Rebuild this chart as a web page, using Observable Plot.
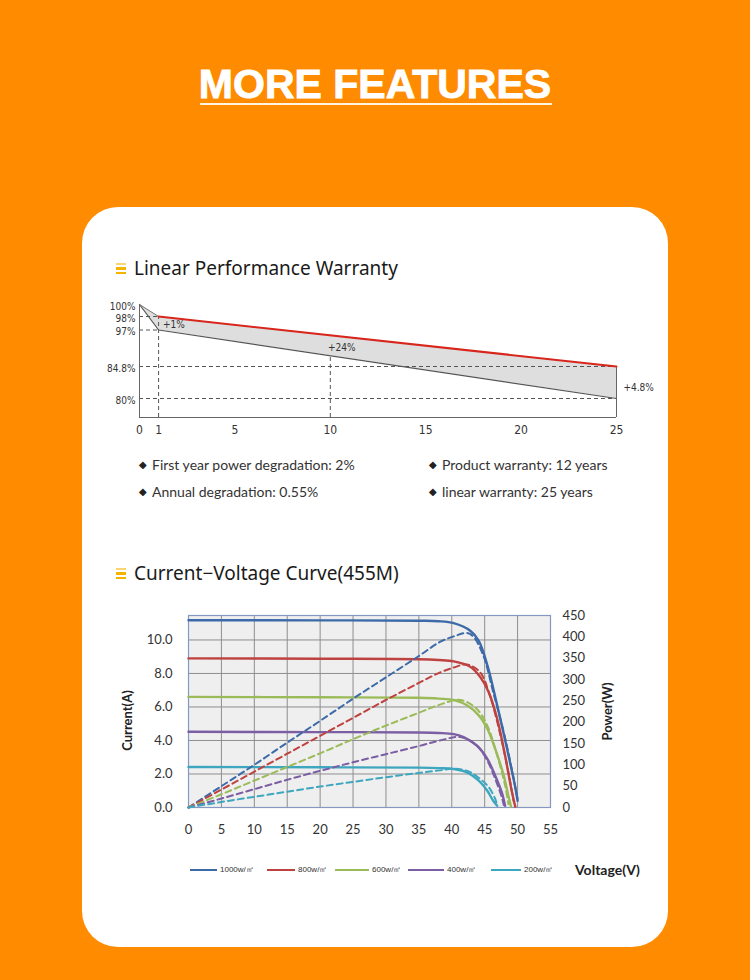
<!DOCTYPE html>
<html><head><meta charset="utf-8">
<script src="https://cdn.jsdelivr.net/npm/d3@7"></script>
<script src="https://cdn.jsdelivr.net/npm/@observablehq/plot@0.6"></script>
<style>
html,body{margin:0;padding:0;}
body{width:750px;height:980px;background:#ff8b00;overflow:hidden;position:relative;font-family:"Noto Sans",sans-serif;}
.abs{position:absolute;}
#title{left:0;width:750px;top:63.6px;text-align:center;font:bold 41px/41px "Liberation Sans",Arial,sans-serif;color:#fff;white-space:nowrap;-webkit-text-stroke:0.9px #fff;}
#uline{left:200px;width:352px;top:102.5px;height:2.5px;background:#fff4e0;}
#card{left:82px;top:207px;width:586px;height:740px;background:#fff;border-radius:36px;}
.hdr{left:134px;font:400 19px/19px "Noto Sans",sans-serif;color:#1a1a1a;white-space:nowrap;}
.bar{width:10px;height:2.4px;background:#f4b400;left:116px;}
.bl{font:14px/14px Lato,sans-serif;color:#333;white-space:nowrap;}
.dia{font:10px/14px "DejaVu Sans",sans-serif;color:#222;display:inline-block;width:13px;vertical-align:top;}
.lgi{position:absolute;top:864px;display:flex;align-items:center;font:8px/12px "Liberation Sans",sans-serif;color:#333;white-space:nowrap;}
.lgi .ln{height:2px;margin-right:3px;}
#volt{left:575px;top:861px;font:bold 14px/18px Lato,sans-serif;color:#222;}
</style></head>
<body>
<div id="title" class="abs">MORE FEATURES</div>
<div id="uline" class="abs"></div>
<div id="card" class="abs"></div>

<div class="abs bar" style="top:262.5px;opacity:.55"></div>
<div class="abs bar" style="top:267.2px"></div>
<div class="abs bar" style="top:272px"></div>
<div class="abs hdr" style="top:259.2px">Linear Performance Warranty</div>

<div id="chart1" class="abs" style="left:100px;top:290px;"></div>

<div class="abs bl" style="left:139px;top:457.6px"><span class="dia">◆</span>First year power degradation: 2%</div>
<div class="abs bl" style="left:139px;top:484.6px"><span class="dia">◆</span>Annual degradation: 0.55%</div>
<div class="abs bl" style="left:429px;top:457.6px"><span class="dia">◆</span>Product warranty: 12 years</div>
<div class="abs bl" style="left:429px;top:484.6px"><span class="dia">◆</span>linear warranty: 25 years</div>

<div class="abs bar" style="top:567.5px;opacity:.55"></div>
<div class="abs bar" style="top:572.2px"></div>
<div class="abs bar" style="top:577px"></div>
<div class="abs hdr" style="top:564.2px">Current−Voltage Curve(455M)</div>

<div id="chart2" class="abs" style="left:100px;top:600px;width:560px;height:240px;"></div>
<div id="legend"></div>
<div id="volt" class="abs">Voltage(V)</div>

<script>
// ---------- Linear performance warranty ----------
const years = [0, 1, 25];
const warrantedPower = [100, 98, 84.8];
const standardPower = [100, 97, 80];
const pctTicks = [100, 98, 97, 84.8, 80];
const yearTicks = [0, 1, 5, 10, 15, 20, 25];
const gainLabels = ["+1%", "+24%"];
const gainYears = [1.8, 10.6];
const gainPcts = [97.4, 91.2];
const endGainLabel = "+4.8%";

// ---------- Current-voltage curve ----------
const irradiance = ["1000w/㎡", "800w/㎡", "600w/㎡", "400w/㎡", "200w/㎡"];
const colors = ["#3d6aa8", "#be4340", "#9bbb59", "#7b5ea3", "#3ea7bf"];
const currentTicks = [0, 2, 4, 6, 8, 10];
const powerTicks = [0, 50, 100, 150, 200, 250, 300, 350, 400, 450];
const voltTicks = [0, 5, 10, 15, 20, 25, 30, 35, 40, 45, 50, 55];

// I-V (voltage V, current A)
const iv1000 = [[0,11.18],[20,11.17],[35,11.15],[38,11.12],[40.3,11.0],[42.8,10.55],[44.1,9.95],[45.4,8.5],[46.9,6.1],[48.4,3.5],[49.6,1.3],[50.0,0.4]];
const iv800  = [[0,8.9],[20,8.88],[35,8.85],[38,8.8],[40.3,8.72],[42.8,8.4],[44.3,7.8],[45.6,6.9],[46.9,5.3],[48.1,3.1],[49.1,1.0],[49.65,0.05]];
const iv600  = [[0,6.6],[20,6.58],[35,6.55],[38,6.5],[40.5,6.4],[42.3,6.1],[44.1,5.5],[45.4,4.7],[46.6,3.5],[47.9,1.9],[48.6,0.7],[49.0,0.05]];
const iv400  = [[0,4.52],[20,4.5],[35,4.48],[38,4.45],[40.3,4.38],[41.8,4.2],[43.8,3.7],[45.4,2.9],[46.6,1.9],[47.6,0.9],[48.1,0.1]];
const iv200  = [[0,2.42],[20,2.4],[35,2.38],[38,2.35],[40.3,2.3],[42.3,2.1],[44.1,1.6],[45.4,1.0],[46.3,0.4],[46.9,0.1]];
// P-V (voltage V, power W)
const pv1000 = [[0,0],[5,50],[10,100],[15,152],[20,203],[25,255],[30,305],[35,355],[38.2,388],[40.5,402],[42.3,409],[43.3,400],[44.8,356],[46.3,270],[47.9,176],[49.1,91],[49.9,28],[50.1,12]];
const pv800  = [[0,0],[5,42],[10,84],[15,126],[20,168],[25,210],[30,252],[35,292],[38,315],[40.3,328],[42.3,335],[44.3,317],[45.8,262],[47.4,169],[48.6,83],[49.4,15]];
const pv600  = [[0,0],[5,31],[10,63],[15,95],[20,127],[25,160],[30,192],[35,222],[38,240],[41.3,252],[43.8,231],[45.4,192],[46.9,122],[48.1,52],[48.6,8]];
const pv400  = [[0,0],[5,21],[10,43],[15,65],[20,86],[25,106],[30,125],[35,144],[38.2,157],[41.3,165],[43.8,145],[45.4,110],[46.6,67],[47.6,24],[47.9,6]];
const pv200  = [[0,0],[5,13],[10,25],[15,37],[20,49],[25,60],[30,71],[35,81],[38.2,87],[40.5,91],[42.8,83],[44.3,67],[45.6,48],[46.6,20],[46.9,5]];

// ---------- chart 1 ----------
const floorPct = 77;
const yDomain = [floorPct, 80, 84.8, 97, 98, 100];
const yRange = [127, 108, 76, 39.5, 26, 14];
const band = years.map((t, i) => ({year: t, lo: standardPower[i], hi: warrantedPower[i]}));
const gains = gainLabels.map((l, i) => ({label: l, year: gainYears[i], pct: gainPcts[i]}));
const lastYear = years[years.length - 1];
const endGain = [{label: endGainLabel, year: lastYear, pct: (warrantedPower[2] + standardPower[2]) / 2}];
// value of the standard line at year 10 as drawn (straight in screen space)
const ys = d3.scaleLinear(yDomain, yRange);
const f10 = (10 - years[1]) / (years[2] - years[1]);
const lo10 = ys.invert(ys(standardPower[1]) + f10 * (ys(standardPower[2]) - ys(standardPower[1])));

const dash = {stroke: "#555", strokeWidth: 1, strokeDasharray: "4,3"};
const narrow = '"DejaVu Sans Condensed","Liberation Sans",sans-serif';
const c1 = Plot.plot({
  width: 560, height: 155,
  marginLeft: 39, marginRight: 44, marginTop: 14, marginBottom: 28,
  x: {domain: [0, 25]},
  y: {type: "linear", domain: yDomain, range: yRange},
  style: {fontFamily: narrow, fontSize: "10px", color: "#333", background: "transparent", overflow: "visible"},
  marks: [
    Plot.areaY(band, {x: "year", y1: "lo", y2: "hi", fill: "#dedede"}),
    Plot.ruleY([98, 97], {x1: 0, x2: 1, ...dash}),
    Plot.ruleY([84.8, 80], {x1: 0, x2: 25, ...dash}),
    Plot.ruleX([1], {y1: floorPct, y2: 98, ...dash}),
    Plot.ruleX([10], {y1: floorPct, y2: lo10, ...dash}),
    Plot.line(band, {x: "year", y: "lo", stroke: "#555", strokeWidth: 1.2}),
    Plot.line(band.slice(0, 2), {x: "year", y: "hi", stroke: "#777", strokeWidth: 1}),
    Plot.ruleX([25], {y1: floorPct, y2: 84.8, stroke: "#666", strokeWidth: 1}),
    Plot.ruleX([0], {y1: floorPct, y2: 100, stroke: "#666", strokeWidth: 1}),
    Plot.ruleY([floorPct], {x1: 0, x2: 25, stroke: "#666", strokeWidth: 1}),
    Plot.line(band.slice(1), {x: "year", y: "hi", stroke: "#d8261c", strokeWidth: 2}),
    Plot.axisY({ticks: pctTicks, tickFormat: d => d + "%", tickSize: 0, tickPadding: 4, dy: 2, label: null, fontSize: 10, fontStretch: "condensed"}),
    Plot.axisX({ticks: yearTicks, tickSize: 0, tickPadding: 8, label: null, fontSize: 12}),
    Plot.text(gains, {x: "year", y: "pct", text: "label", textAnchor: "middle", fontSize: 10, fill: "#333"}),
    Plot.text(endGain, {x: "year", y: "pct", text: "label", textAnchor: "start", dx: 7, dy: 5, fontSize: 10, fill: "#333"})
  ]
});
document.getElementById("chart1").append(c1);

// ---------- chart 2 ----------
const ivs = [iv1000, iv800, iv600, iv400, iv200];
const pvs = [pv1000, pv800, pv600, pv400, pv200];
const dims = {width: 560, height: 240, marginLeft: 88, marginRight: 110, marginTop: 15, marginBottom: 33};
const font2 = {fontFamily: "Lato, sans-serif", fontSize: "13px", color: "#333", background: "transparent", overflow: "visible"};

const cI = Plot.plot({
  ...dims,
  x: {domain: [0, 55]},
  y: {domain: [0, 11.46]},
  style: font2,
  marks: [
    Plot.frame({fill: "#efefef", stroke: "none"}),
    Plot.gridX({ticks: voltTicks, stroke: "#8e8e8e", strokeOpacity: 1}),
    Plot.gridY({ticks: currentTicks, stroke: "#8e8e8e", strokeOpacity: 1}),
    Plot.frame({stroke: "#8399c2", strokeWidth: 1.2}),
    ...ivs.map((s, i) => Plot.line(s, {x: d => d[0], y: d => d[1], stroke: colors[i], strokeWidth: 2.4, curve: "catmull-rom"})),
    Plot.axisY({ticks: currentTicks, tickFormat: d3.format(".1f"), tickSize: 0, tickPadding: 16, label: null}),
    Plot.axisX({ticks: voltTicks, tickSize: 0, tickPadding: 17, label: null}),
    Plot.text(["Current(A)"], {frameAnchor: "left", textAnchor: "middle", dx: -61, dy: 9, rotate: -90, fontWeight: "bold", fontSize: 13, fill: "#222"})
  ]
});
const cP = Plot.plot({
  ...dims,
  x: {domain: [0, 55], axis: null},
  y: {domain: [0, 450], axis: null},
  style: font2,
  marks: [
    ...pvs.map((s, i) => Plot.line(s, {x: d => d[0], y: d => d[1], stroke: colors[i], strokeWidth: 2, strokeDasharray: "6,4", curve: "catmull-rom"})),
    Plot.axisY({anchor: "right", ticks: powerTicks, tickSize: 0, tickPadding: 12, label: null}),
    Plot.text(["Power(W)"], {frameAnchor: "right", textAnchor: "middle", dx: 57, rotate: -90, fontWeight: "bold", fontSize: 13, fill: "#222"})
  ]
});
cI.style.position = "absolute"; cI.style.left = "0"; cI.style.top = "0";
cP.style.position = "absolute"; cP.style.left = "0"; cP.style.top = "0";
const host = document.getElementById("chart2");
host.append(cI); host.append(cP);

// legend layout (page x of each entry and its line length)
const legendLeft = [190, 267, 335, 408, 491];
const legendLine = [27, 28, 34, 36, 30];
const lg = document.getElementById("legend");
irradiance.forEach((name, i) => {
  const it = document.createElement("div"); it.className = "lgi"; it.style.left = legendLeft[i] + "px";
  const ln = document.createElement("div"); ln.className = "ln"; ln.style.background = colors[i]; ln.style.width = legendLine[i] + "px";
  const tx = document.createElement("span"); tx.textContent = name;
  it.append(ln, tx); lg.append(it);
});
</script>
</body></html>
